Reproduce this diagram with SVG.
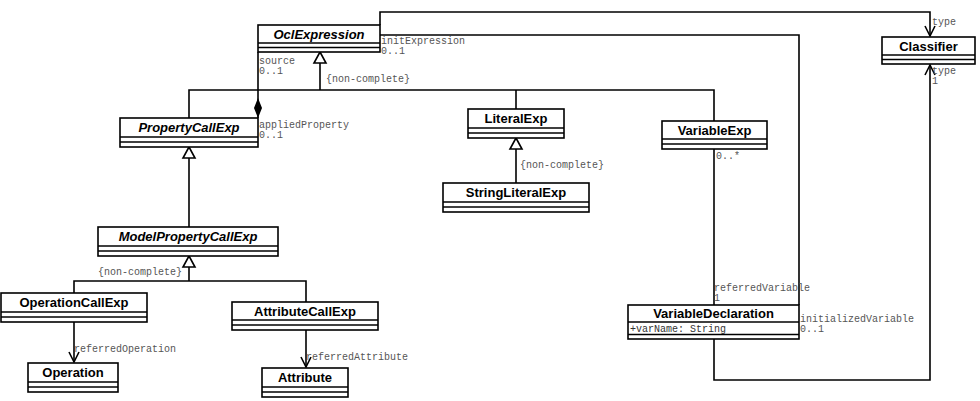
<svg xmlns="http://www.w3.org/2000/svg" width="980" height="401" viewBox="0 0 980 401">
<style>
.box{fill:#fff;stroke:#000;stroke-width:1.6}
.sep{stroke:#000;stroke-width:1.4}
.ln{fill:none;stroke:#000;stroke-width:1.6}
.ar{fill:none;stroke:#000;stroke-width:1.6}
.tri{fill:#fff;stroke:#000;stroke-width:1.6}
.nm{font-family:"Liberation Sans",Arial,sans-serif;font-weight:bold;font-size:13px;text-anchor:middle;fill:#000}
.ab{font-style:italic}
.lb{font-family:"Liberation Mono","DejaVu Sans Mono",monospace;font-size:10px;fill:#555}
</style>
<g id="connectors">
<!-- OclExpression -> Classifier type -->
<path class="ln" d="M380,25 V12 H930 V36"/>
<path class="ar" d="M925,26 L930,36 L935,26"/>
<!-- initExpression -->
<path class="ln" d="M380,35 H799 V305"/>
<!-- source / appliedProperty composition -->
<path class="ln" d="M258,52 V118"/>
<path d="M258,98 L262,108 L258,118 L254,108 Z" fill="#000"/>
<!-- generalization from OclExpression -->
<path class="ln" d="M320,63 V90"/>
<path class="ln" d="M189,118 V90 H714 V121"/>
<path class="ln" d="M516,90 V109"/>
<path class="tri" d="M320,52 L326,63 L314,63 Z"/>
<!-- LiteralExp generalization -->
<path class="ln" d="M516,149 V183"/>
<path class="tri" d="M516,138 L522,149 L510,149 Z"/>
<!-- PropertyCallExp generalization -->
<path class="ln" d="M189,158 V227"/>
<path class="tri" d="M189,147 L195,158 L183,158 Z"/>
<!-- ModelPropertyCallExp generalization -->
<path class="ln" d="M189,267 V281"/>
<path class="ln" d="M74,293 V281 H306 V302"/>
<path class="tri" d="M189,256 L195,267 L183,267 Z"/>
<!-- referredOperation -->
<path class="ln" d="M74,322 V362"/>
<path class="ar" d="M69,352 L74,362 L79,352"/>
<!-- referredAttribute -->
<path class="ln" d="M306,330 V367"/>
<path class="ar" d="M301,357 L306,367 L311,357"/>
<!-- referredVariable -->
<path class="ln" d="M714,149 V305"/>
<!-- VariableDeclaration type -->
<path class="ln" d="M714,339 V380 H930 V65"/>
<path class="ar" d="M925,75 L930,65 L935,75"/>
</g>
<g id="labels">
<text class="lb" x="381" y="44">initExpression</text>
<text class="lb" x="381" y="54">0..1</text>
<text class="lb" x="259" y="64">source</text>
<text class="lb" x="259" y="74">0..1</text>
<text class="lb" x="326" y="82">{non-complete}</text>
<text class="lb" x="259" y="128">appliedProperty</text>
<text class="lb" x="259" y="138">0..1</text>
<text class="lb" x="520" y="168">{non-complete}</text>
<text class="lb" x="716" y="159">0..*</text>
<text class="lb" x="98" y="275">{non-complete}</text>
<text class="lb" x="74" y="352">referredOperation</text>
<text class="lb" x="306" y="360">referredAttribute</text>
<text class="lb" x="714" y="291">referredVariable</text>
<text class="lb" x="714" y="301">1</text>
<text class="lb" x="800" y="322">initializedVariable</text>
<text class="lb" x="800" y="332">0..1</text>
<text class="lb" x="932" y="25">type</text>
<text class="lb" x="932" y="74">type</text>
<text class="lb" x="932" y="84">1</text>
</g>
<g id="OclExpression">
<rect class="box" x="258" y="25" width="122" height="27"/>
<line class="sep" x1="258" y1="43" x2="380" y2="43"/>
<line class="sep" x1="258" y1="47.5" x2="380" y2="47.5"/>
<text class="nm ab" x="319" y="39">OclExpression</text>
</g>
<g id="Classifier">
<rect class="box" x="882" y="37" width="93" height="27"/>
<line class="sep" x1="882" y1="55" x2="975" y2="55"/>
<line class="sep" x1="882" y1="59.5" x2="975" y2="59.5"/>
<text class="nm" x="928.5" y="51">Classifier</text>
</g>
<g id="PropertyCallExp">
<rect class="box" x="120" y="118" width="138" height="29"/>
<line class="sep" x1="120" y1="137" x2="258" y2="137"/>
<line class="sep" x1="120" y1="142" x2="258" y2="142"/>
<text class="nm ab" x="189" y="132">PropertyCallExp</text>
</g>
<g id="LiteralExp">
<rect class="box" x="468" y="109" width="96" height="29"/>
<line class="sep" x1="468" y1="128" x2="564" y2="128"/>
<line class="sep" x1="468" y1="133" x2="564" y2="133"/>
<text class="nm" x="516" y="123">LiteralExp</text>
</g>
<g id="VariableExp">
<rect class="box" x="662" y="121" width="105" height="28"/>
<line class="sep" x1="662" y1="139" x2="767" y2="139"/>
<line class="sep" x1="662" y1="144" x2="767" y2="144"/>
<text class="nm" x="714.5" y="135">VariableExp</text>
</g>
<g id="StringLiteralExp">
<rect class="box" x="443" y="183" width="146" height="29"/>
<line class="sep" x1="443" y1="202" x2="589" y2="202"/>
<line class="sep" x1="443" y1="207" x2="589" y2="207"/>
<text class="nm" x="516" y="197">StringLiteralExp</text>
</g>
<g id="ModelPropertyCallExp">
<rect class="box" x="98" y="227" width="180" height="29"/>
<line class="sep" x1="98" y1="246" x2="278" y2="246"/>
<line class="sep" x1="98" y1="251" x2="278" y2="251"/>
<text class="nm ab" x="188" y="241">ModelPropertyCallExp</text>
</g>
<g id="OperationCallExp">
<rect class="box" x="1" y="293" width="146" height="29"/>
<line class="sep" x1="1" y1="312" x2="147" y2="312"/>
<line class="sep" x1="1" y1="317" x2="147" y2="317"/>
<text class="nm" x="74" y="307">OperationCallExp</text>
</g>
<g id="AttributeCallExp">
<rect class="box" x="232" y="302" width="146" height="28"/>
<line class="sep" x1="232" y1="320" x2="378" y2="320"/>
<line class="sep" x1="232" y1="325" x2="378" y2="325"/>
<text class="nm" x="305" y="316">AttributeCallExp</text>
</g>
<g id="Operation">
<rect class="box" x="28" y="363" width="90" height="29"/>
<line class="sep" x1="28" y1="382" x2="118" y2="382"/>
<line class="sep" x1="28" y1="387" x2="118" y2="387"/>
<text class="nm" x="73" y="377">Operation</text>
</g>
<g id="Attribute">
<rect class="box" x="262" y="368" width="86" height="29"/>
<line class="sep" x1="262" y1="387" x2="348" y2="387"/>
<line class="sep" x1="262" y1="392" x2="348" y2="392"/>
<text class="nm" x="305" y="382">Attribute</text>
</g>
<g id="VariableDeclaration">
<rect class="box" x="628" y="305" width="171" height="34"/>
<line class="sep" x1="628" y1="322" x2="799" y2="322"/>
<line class="sep" x1="628" y1="334.5" x2="799" y2="334.5"/>
<text class="nm" x="713.5" y="318">VariableDeclaration</text>
<text class="lb" x="630" y="332" style="fill:#333">+varName: String</text>
</g>
</svg>
